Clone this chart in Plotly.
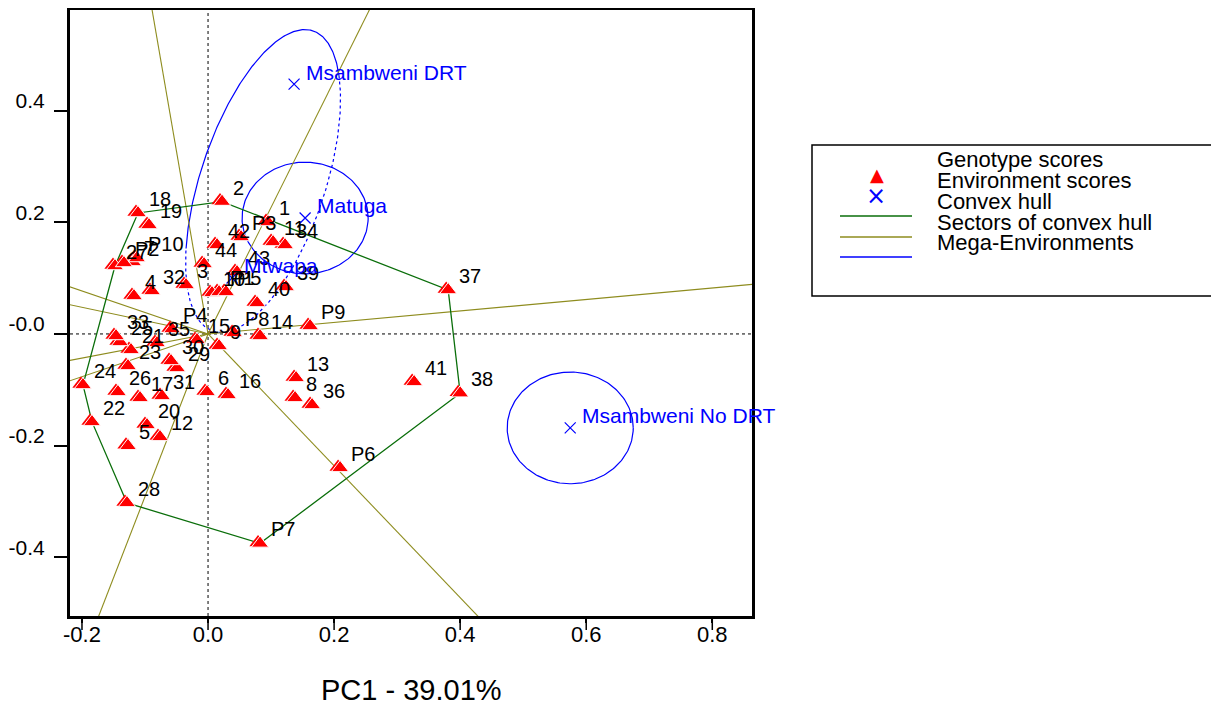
import numpy as np
import plotly.graph_objects as go

W, H = 1219, 704
OFF = 8  # the page body margin shifts the figure by this many pixels
PX0, PX1, PY0, PY1 = 70 - OFF, 752 - OFF, 10 - OFF, 616 - OFF

x_range = [-0.219, 0.863]
y_range = [-0.505, 0.580]

geno_labels = ["1", "2", "3", "4", "5", "6", "7", "8", "9", "10",
               "11", "12", "13", "14", "15", "16", "17", "18", "19", "20",
               "21", "22", "23", "24", "25", "26", "27", "28", "29", "30",
               "31", "32", "33", "34", "35", "36", "37", "38", "39", "40",
               "41", "42", "43", "44", "P1", "P2", "P3", "P4", "P5", "P6",
               "P7", "P8", "P9", "P10"]
geno_x = [0.0952, 0.0222, -0.0349, -0.1175, -0.1270, -0.0016, -0.1190, 0.1381, 0.0175, 0.0063,
          0.1032, -0.0762, 0.1397, 0.0825, -0.0175, 0.0317, -0.1079, -0.1111, -0.0937, -0.0968,
          -0.1222, -0.1841, -0.1270, -0.1984, -0.1397, -0.1429, -0.1476, -0.1286, -0.0492, -0.0587,
          -0.0730, -0.0889, -0.1460, 0.1222, -0.0810, 0.1651, 0.3810, 0.4000, 0.1238, 0.0778,
          0.3270, 0.0143, 0.0460, -0.0063, 0.0175, -0.1333, 0.0524, -0.0571, 0.0286, 0.2095,
          0.0825, 0.0413, 0.1619, -0.1127]
geno_y = [0.2004, 0.2370, 0.0877, 0.0680, -0.2004, -0.1038, 0.1289, -0.1145, -0.0215, 0.0734,
          0.1647, -0.1843, -0.0787, -0.0036, -0.0107, -0.1092, -0.1145, 0.2166, 0.1951, -0.1629,
          -0.0286, -0.1575, -0.0573, -0.0913, -0.0143, -0.1038, 0.1217, -0.3025, -0.0609, -0.0483,
          -0.1110, 0.0770, -0.0036, 0.1593, -0.0161, -0.1271, 0.0787, -0.1060, 0.0841, 0.0555,
          -0.0859, 0.1593, 0.1110, 0.1253, 0.0752, 0.1271, 0.1736, 0.0089, 0.0752, -0.2398,
          -0.3750, 0.0018, 0.0143, 0.1360]

env_labels = ["Msambweni DRT", "Matuga", "Mtwapa", "Msambweni No DRT"]
env_x = [0.1365, 0.154, 0.0381, 0.5746]
env_y = [0.4474, 0.2076, 0.1002, -0.1682]

# mega-environment groupings (indices into env lists) and their radius
me_pair = [2, 0]          # Mtwapa + Msambweni DRT share one elongated ellipse
me_single = [1, 3]        # Matuga, Msambweni No DRT get circles
me_radius = 0.1

x_tickvals = [-0.2, 0.0, 0.2, 0.4, 0.6, 0.8]
x_ticktext = ["-0.2", "0.0", "0.2", "0.4", "0.6", "0.8"]
y_tickvals = [-0.4, -0.2, 0.0, 0.2, 0.4]
y_ticktext = ["-0.4", "-0.2", "-0.0", "0.2", "0.4"]

legend_items = ["Genotype scores", "Environment scores", "Convex hull",
                "Sectors of convex hull", "Mega-Environments"]

RED = "#FF0000"
BLUE = "#0000FF"
GREEN = "#0A6E0A"
OLIVE = "#8E8C1E"
SANS = "Liberation Sans, Arial, sans-serif"


def fx(px):
    return (px - OFF) / W


def fy(py):
    return 1 - (py - OFF) / H


# ---------- convex hull ----------
pts = sorted(zip(geno_x, geno_y))


def cross(o, a, b):
    return (a[0] - o[0]) * (b[1] - o[1]) - (a[1] - o[1]) * (b[0] - o[0])


lower = []
for p in pts:
    while len(lower) >= 2 and cross(lower[-2], lower[-1], p) <= 0:
        lower.pop()
    lower.append(p)
upper = []
for p in reversed(pts):
    while len(upper) >= 2 and cross(upper[-2], upper[-1], p) <= 0:
        upper.pop()
    upper.append(p)
hull = lower[:-1] + upper[:-1]
hx = [p[0] for p in hull] + [hull[0][0]]
hy = [p[1] for p in hull] + [hull[0][1]]

# ---------- sector rays (perpendicular from origin to each hull edge) ----------
rx, ry = [], []
for i in range(len(hull)):
    p = np.array(hull[i])
    q = np.array(hull[(i + 1) % len(hull)])
    d = q - p
    t = -np.dot(p, d) / np.dot(d, d)
    foot = p + t * d
    u = foot / np.linalg.norm(foot)
    rx += [0.0, u[0] * 3, None]
    ry += [0.0, u[1] * 3, None]

fig = go.Figure()

# origin reference lines
fig.add_shape(type="line", xref="x", yref="paper", x0=0, x1=0, y0=1 - PY1 / H, y1=1 - PY0 / H,
              line=dict(color="black", width=1, dash="dot"), layer="below")
fig.add_shape(type="line", xref="paper", yref="y", x0=PX0 / W, x1=PX1 / W, y0=0, y1=0,
              line=dict(color="black", width=1, dash="dot"), layer="below")

# ---------- mega-environment ellipse around paired environments ----------
a_pt = np.array([env_x[me_pair[0]], env_y[me_pair[0]]])
b_pt = np.array([env_x[me_pair[1]], env_y[me_pair[1]]])
c = (a_pt + b_pt) / 2
half = (b_pt - a_pt) / 2
hl = np.linalg.norm(half)
uvec = half / hl
avec = uvec * (hl + me_radius)
bvec = np.array([uvec[1], -uvec[0]]) * me_radius


def ell(ts):
    return (c[0] + avec[0] * np.cos(ts) + bvec[0] * np.sin(ts),
            c[1] + avec[1] * np.cos(ts) + bvec[1] * np.sin(ts))


t_solid = np.linspace(4.15 - 2 * np.pi, 0.7, 200)
t_dot = np.linspace(0.7, 4.15, 200)
ex, ey = ell(t_solid)
fig.add_trace(go.Scatter(x=ex, y=ey, mode="lines", line=dict(color=BLUE, width=1.2), hoverinfo="skip"))
ex, ey = ell(t_dot)
fig.add_trace(go.Scatter(x=ex, y=ey, mode="lines", line=dict(color=BLUE, width=1.2, dash="dot"),
                         hoverinfo="skip"))

# circles
tt = np.linspace(0, 2 * np.pi, 200)
for k in me_single:
    fig.add_trace(go.Scatter(x=env_x[k] + me_radius * np.cos(tt), y=env_y[k] + me_radius * np.sin(tt),
                             mode="lines", line=dict(color=BLUE, width=1.2), hoverinfo="skip"))

# sector rays
fig.add_trace(go.Scatter(x=rx, y=ry, mode="lines", line=dict(color=OLIVE, width=1.1), hoverinfo="skip"))
# hull
fig.add_trace(go.Scatter(x=hx, y=hy, mode="lines", line=dict(color=GREEN, width=1.3), hoverinfo="skip"))

# genotypes: a slightly shifted back triangle plus a front triangle with a white edge (3-D look)
dx_data = 2.0 * (x_range[1] - x_range[0]) / (PX1 - PX0)
dy_data = 1.0 * (y_range[1] - y_range[0]) / (PY1 - PY0)
fig.add_trace(go.Scatter(x=[v - dx_data for v in geno_x], y=[v + dy_data for v in geno_y], mode="markers",
                         marker=dict(symbol="triangle-up", size=15, color=RED, line=dict(width=0)),
                         hoverinfo="skip"))
fig.add_trace(go.Scatter(x=geno_x, y=geno_y, mode="markers",
                         marker=dict(symbol="triangle-up", size=15, color=RED,
                                     line=dict(color="white", width=1))))

# environments
fig.add_trace(go.Scatter(x=env_x, y=env_y, mode="markers",
                         marker=dict(symbol="x-thin", size=11, color=BLUE,
                                     line=dict(color=BLUE, width=1.2))))

# labels as annotations
for lab, gx, gy in zip(geno_labels, geno_x, geno_y):
    fig.add_annotation(x=gx, y=gy, xref="x", yref="y", text=lab, showarrow=False,
                       xanchor="left", yanchor="middle", xshift=9, yshift=14,
                       font=dict(family=SANS, size=20, color="black"))
for lab, ex_, ey_ in zip(env_labels, env_x, env_y):
    fig.add_annotation(x=ex_, y=ey_, xref="x", yref="y", text=lab, showarrow=False,
                       xanchor="left", yanchor="middle", xshift=10, yshift=12,
                       font=dict(family=SANS, size=21, color=BLUE))

fig.update_layout(
    template="none",
    width=W, height=H, margin=dict(l=0, r=0, t=0, b=0, autoexpand=False),
    plot_bgcolor="white", paper_bgcolor="white", showlegend=False,
    xaxis=dict(domain=[PX0 / W, PX1 / W], range=x_range, tickvals=x_tickvals, ticktext=x_ticktext,
               ticks="outside", ticklen=4, tickwidth=1.5, tickcolor="black", automargin=False,
               showline=True, linewidth=3, linecolor="black", mirror=True,
               showgrid=False, zeroline=False, ticklabelstandoff=-7,
               tickfont=dict(family=SANS, size=22, color="black")),
    yaxis=dict(domain=[1 - PY1 / H, 1 - PY0 / H], range=y_range, tickvals=y_tickvals, ticktext=y_ticktext,
               ticks="outside", ticklen=13, tickwidth=1.5, tickcolor="black", automargin=False,
               showline=True, linewidth=3, linecolor="black", mirror=True,
               showgrid=False, zeroline=False, ticklabelshift=-10, ticklabelstandoff=5,
               tickfont=dict(family=SANS, size=21, color="black")),
)

# longer x tick marks that run into the labels, as in the reference
for tv in x_tickvals:
    fig.add_shape(type="line", xref="x", yref="paper", x0=tv, x1=tv,
                  y0=1 - PY1 / H, y1=1 - (PY1 + 14) / H, line=dict(color="black", width=1.5))

# x axis title
fig.add_annotation(xref="paper", yref="paper", x=fx(411), y=fy(690), text="PC1 - 39.01%",
                   showarrow=False, xanchor="center", yanchor="middle",
                   font=dict(family=SANS, size=29, color="black"))

# ---------- manual legend ----------
fig.add_shape(type="rect", xref="paper", yref="paper", x0=fx(812), x1=fx(1214),
              y0=fy(296), y1=fy(145), line=dict(color="black", width=1.5), fillcolor="white")
leg_y = [159, 180, 201, 222, 243]
for txt, yy in zip(legend_items, leg_y):
    fig.add_annotation(xref="paper", yref="paper", x=fx(935), y=fy(yy), text=txt, showarrow=False,
                       xanchor="left", yanchor="middle", font=dict(family=SANS, size=22, color="black"))
fig.add_annotation(xref="paper", yref="paper", x=fx(877), y=fy(174), text="▲", showarrow=False,
                   xanchor="center", yanchor="middle", font=dict(family="DejaVu Sans", size=18, color=RED))
fig.add_annotation(xref="paper", yref="paper", x=fx(876), y=fy(196), text="×", showarrow=False,
                   xanchor="center", yanchor="middle", font=dict(family="DejaVu Sans", size=24, color=BLUE))
for col, yy in zip([GREEN, OLIVE, BLUE], [216, 237, 257]):
    fig.add_shape(type="line", xref="paper", yref="paper", x0=fx(840), x1=fx(912),
                  y0=fy(yy), y1=fy(yy), line=dict(color=col, width=1.5))

fig.write_html("out.html")
